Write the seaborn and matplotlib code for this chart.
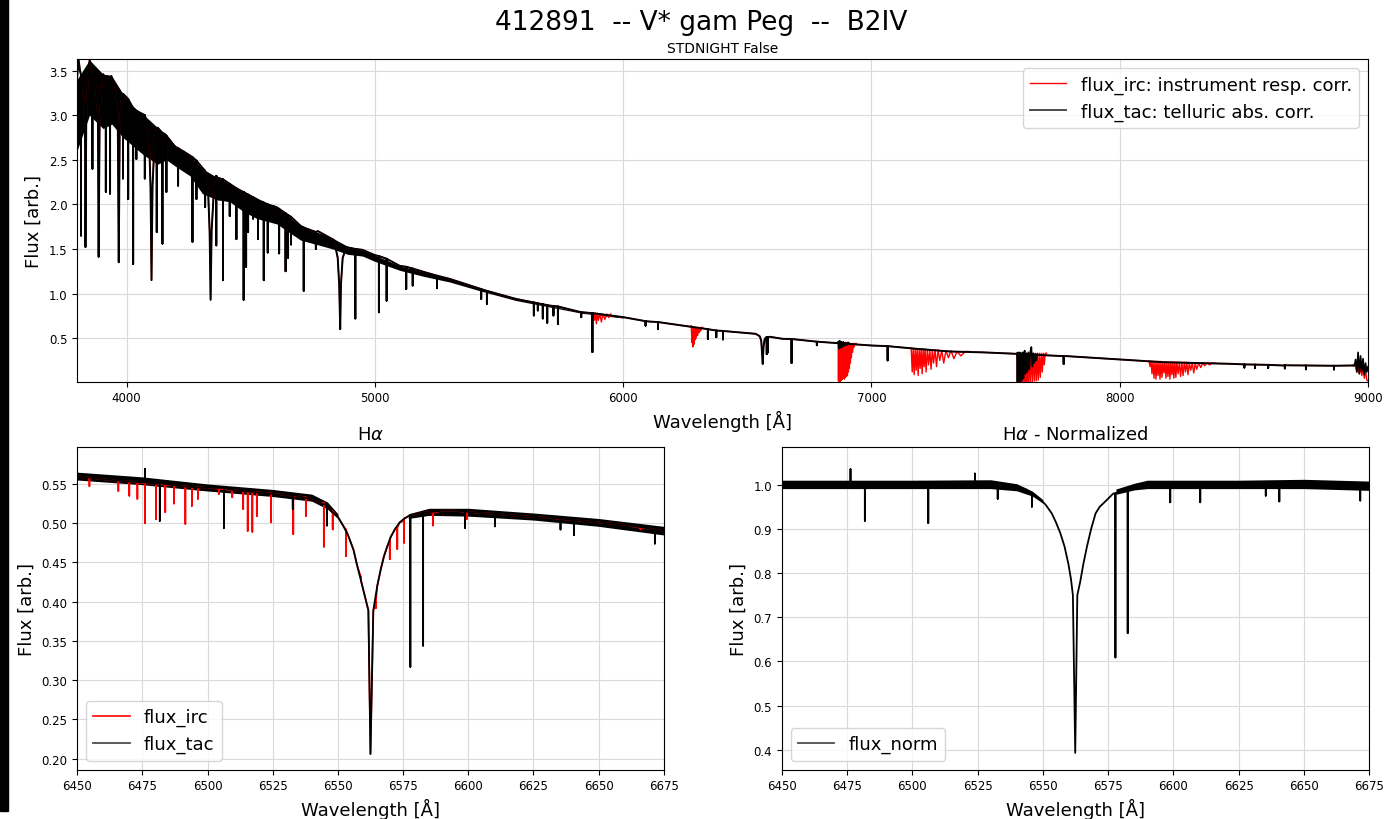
import numpy as np
import matplotlib
matplotlib.use("Agg")
import matplotlib.pyplot as plt
import seaborn as sns
from matplotlib.patches import Rectangle

# ---------------- full spectrum (top panel) ----------------
# upper envelope of the continuum, incl. Balmer wings
cont_wave = [3800, 3806, 3812, 3825, 3832, 3834, 3837, 3845, 3851, 3875, 3884, 3887, 3891,
             3900, 3905, 3920, 3938, 3955, 3964, 3968, 3972, 3980, 4000, 4032, 4066,
             4075, 4090, 4096, 4100, 4104, 4112, 4125, 4153, 4200, 4254, 4308, 4315, 4328,
             4334, 4338, 4342, 4350, 4365, 4415, 4469, 4523, 4603, 4700, 4770, 4835, 4850,
             4856, 4860, 4863, 4870, 4885, 4950, 5000, 5100, 5200, 5300, 5433, 5567, 5701,
             5835, 6000, 6104, 6238, 6373, 6534, 6550, 6556, 6560, 6562, 6565, 6570, 6576,
             6590, 6642, 6776, 7000, 7181, 7315, 7450, 7583, 7770, 8000, 8174, 8443, 8657,
             8940]
cont_flux = [3.40, 3.63, 3.50, 3.25, 2.90, 1.52, 2.90, 3.50, 3.62, 3.35, 3.00, 1.41, 2.95,
             3.40, 3.46, 3.44, 3.44, 3.30, 3.00, 1.35, 2.90, 3.20, 3.20, 3.07, 3.01,
             2.98, 2.75, 2.20, 1.15, 2.20, 2.70, 2.86, 2.79, 2.64, 2.55, 2.40, 2.38, 2.15,
             1.70, 0.93, 1.70, 2.10, 2.30, 2.23, 2.14, 2.06, 1.97, 1.76, 1.70, 1.60, 1.40,
             1.10, 0.60, 1.10, 1.40, 1.52, 1.49, 1.43, 1.31, 1.24, 1.165, 1.045, 0.94, 0.866,
             0.79, 0.735, 0.686, 0.641, 0.585, 0.548, 0.52, 0.47, 0.30, 0.21, 0.40, 0.49, 0.51,
             0.515, 0.492, 0.462, 0.417, 0.38, 0.35, 0.34, 0.324, 0.298, 0.26, 0.23, 0.212, 0.193,
             0.193]

# dense blend of weak lines: lower edge of the black band
band_wave = [3800, 3850, 3905, 3940, 3985, 4040, 4070, 4125, 4160, 4200, 4255, 4305,
             4365, 4415, 4470, 4525, 4605, 4700, 4830, 4890, 4950, 5000, 5100, 5200, 5300,
             5430, 5567, 5701, 5835, 6000]
band_top = [3.40, 3.62, 3.46, 3.44, 3.24, 3.05, 3.00, 2.86, 2.78, 2.64, 2.55, 2.40,
            2.30, 2.23, 2.14, 2.06, 1.97, 1.76, 1.62, 1.53, 1.49, 1.43, 1.31, 1.24, 1.165,
            1.045, 0.94, 0.866, 0.79, 0.735]
band_low = [2.60, 3.00, 2.85, 2.90, 2.75, 2.62, 2.55, 2.45, 2.50, 2.42, 2.32, 2.12,
            2.05, 2.03, 1.92, 1.84, 1.78, 1.60, 1.50, 1.44, 1.42, 1.36, 1.26, 1.19, 1.13,
            1.025, 0.922, 0.850, 0.778, 0.725]

# stellar absorption lines: wavelength, local continuum, line bottom
line_wave = [3816, 3862, 3916, 3933, 3985, 4006, 4026, 4039, 4073, 4121, 4144, 4160, 4194,
             4207, 4231, 4265, 4281, 4316, 4361, 4388, 4415, 4442, 4471, 4481, 4489, 4509,
             4529, 4552, 4568, 4590, 4614, 4640, 4650, 4662, 4713, 4762, 4921, 5016, 5047,
             5126, 5152, 5250, 5428, 5451, 5640, 5656, 5676, 5694, 5719, 5737, 5831, 5876,
             6090, 6140, 6341, 6375, 6402, 6578, 6583, 6678, 6780, 7065, 7774,
             8502, 8545, 8598, 8665, 8750, 8863]
line_top = [3.45, 3.45, 3.42, 3.43, 3.24, 3.18, 3.08, 3.05, 3.00, 2.85, 2.80, 2.77, 2.65,
            2.63, 2.59, 2.53, 2.49, 2.37, 2.32, 2.28, 2.23, 2.18, 2.14, 2.12, 2.11, 2.08,
            2.05, 2.02, 2.00, 1.98, 1.95, 1.90, 1.88, 1.86, 1.74, 1.69, 1.50, 1.42, 1.39,
            1.30, 1.28, 1.20, 1.05, 1.03, 0.90, 0.89, 0.88, 0.87, 0.86, 0.855, 0.79, 0.78,
            0.69, 0.68, 0.60, 0.585, 0.58, 0.51, 0.51, 0.49, 0.46, 0.41, 0.30,
            0.205, 0.203, 0.200, 0.195, 0.193, 0.190]
line_low = [1.65, 2.40, 2.14, 2.12, 2.29, 2.06, 1.33, 2.51, 2.29, 1.69, 1.56, 2.14, 2.47,
            2.21, 2.40, 1.58, 2.06, 1.97, 1.54, 1.15, 1.87, 1.61, 0.93, 1.30, 1.69, 1.84,
            1.61, 1.15, 1.46, 1.87, 1.45, 1.25, 1.40, 1.55, 1.03, 1.50, 0.72, 0.79, 0.92,
            1.05, 1.09, 1.06, 0.94, 0.885, 0.754, 0.81, 0.72, 0.672, 0.754, 0.66, 0.735, 0.343,
            0.64, 0.60, 0.49, 0.51, 0.485, 0.32, 0.34, 0.22, 0.42, 0.25, 0.21,
            0.17, 0.165, 0.165, 0.16, 0.15, 0.148]

# telluric bands left in flux_irc (red)
tell_na_wave = [5880, 5884, 5888, 5892, 5896, 5900, 5906, 5912, 5918, 5926, 5934, 5942, 5950]
tell_na_flux = [0.78, 0.70, 0.78, 0.66, 0.78, 0.70, 0.77, 0.68, 0.77, 0.71, 0.77, 0.73, 0.77]
tell_63_wave = [6274, 6277, 6279, 6281, 6283, 6285, 6287, 6289, 6291, 6294, 6297, 6300,
                6303, 6306, 6309, 6312, 6316, 6320]
tell_63_flux = [0.64, 0.45, 0.63, 0.40, 0.62, 0.43, 0.62, 0.48, 0.62, 0.50, 0.62, 0.53,
                0.62, 0.56, 0.62, 0.58, 0.62, 0.62]
tell_b_wave = [6866, 6867, 6868, 6869.5, 6871, 6872.5, 6874, 6875.5, 6877, 6879, 6881, 6883,
               6885, 6887, 6889, 6891, 6893, 6895, 6897, 6899, 6901, 6903, 6905, 6907, 6909,
               6911, 6913, 6915, 6917, 6919, 6921, 6924, 6927, 6930, 6934, 6938]
tell_b_flux = [0.46, 0.02, 0.45, 0.01, 0.45, 0.01, 0.45, 0.02, 0.45, 0.03, 0.45, 0.04,
               0.45, 0.05, 0.45, 0.04, 0.45, 0.06, 0.45, 0.07, 0.45, 0.08, 0.45, 0.12, 0.45,
               0.16, 0.44, 0.22, 0.44, 0.28, 0.44, 0.34, 0.44, 0.40, 0.44, 0.44]
tell_72_wave = [7160, 7164, 7168, 7172, 7176, 7180, 7184, 7188, 7192, 7196, 7200, 7204,
                7208, 7212, 7216, 7220, 7225, 7230, 7235, 7240, 7245, 7250, 7256, 7262,
                7268, 7275, 7283, 7291, 7300, 7310, 7320, 7332, 7345, 7360, 7378, 7395]
tell_72_flux = [0.39, 0.12, 0.38, 0.09, 0.38, 0.14, 0.38, 0.08, 0.38, 0.16, 0.38, 0.10,
                0.38, 0.18, 0.38, 0.12, 0.37, 0.20, 0.37, 0.15, 0.37, 0.22, 0.37, 0.18,
                0.37, 0.25, 0.36, 0.22, 0.36, 0.28, 0.36, 0.27, 0.35, 0.30, 0.35, 0.35]
tell_a_wave = [7586, 7588, 7590, 7592, 7594, 7597, 7600, 7603, 7606, 7609, 7612, 7615,
               7618, 7621, 7624, 7627, 7630, 7633, 7636, 7640, 7644, 7648, 7652, 7656,
               7660, 7664, 7668, 7672, 7676, 7680, 7684, 7688, 7692, 7696, 7700, 7705]
tell_a_flux = [0.33, 0.01, 0.33, 0.01, 0.33, 0.01, 0.33, 0.01, 0.33, 0.01, 0.33, 0.01,
               0.33, 0.01, 0.33, 0.01, 0.33, 0.01, 0.33, 0.01, 0.33, 0.01, 0.33, 0.02,
               0.33, 0.02, 0.33, 0.03, 0.33, 0.06, 0.33, 0.12, 0.33, 0.20, 0.33, 0.33]
tell_82_wave = [8118, 8122, 8126, 8130, 8134, 8138, 8142, 8146, 8150, 8154, 8158, 8162,
                8166, 8170, 8174, 8178, 8182, 8186, 8190, 8194, 8198, 8202, 8206, 8210,
                8214, 8218, 8222, 8226, 8230, 8235, 8240, 8245, 8250, 8255, 8260, 8265,
                8270, 8275, 8280, 8286, 8292, 8298, 8304, 8310, 8318, 8326, 8334, 8342,
                8352, 8362, 8372, 8382]
tell_82_flux = [0.24, 0.18, 0.24, 0.10, 0.24, 0.05, 0.24, 0.04, 0.24, 0.08, 0.24, 0.04,
                0.24, 0.06, 0.23, 0.11, 0.23, 0.05, 0.23, 0.07, 0.23, 0.04, 0.23, 0.09,
                0.23, 0.05, 0.23, 0.06, 0.23, 0.10, 0.23, 0.07, 0.23, 0.08, 0.23, 0.12,
                0.23, 0.09, 0.22, 0.14, 0.22, 0.11, 0.22, 0.15, 0.22, 0.17, 0.22, 0.19,
                0.22, 0.20, 0.22, 0.22]
tell_end_wave = [8945, 8950, 8955, 8960, 8965, 8970, 8975, 8980, 8985, 8990, 8995, 9000]
tell_end_flux = [0.19, 0.18, 0.12, 0.18, 0.10, 0.17, 0.08, 0.16, 0.05, 0.14, 0.03, 0.02]

# residual noise of flux_tac inside the strongest bands (black)
tac_b_wave = [6866, 6869, 6872, 6875, 6878, 6882, 6886, 6890, 6895, 6900, 6906]
tac_b_flux = [0.46, 0.38, 0.47, 0.39, 0.46, 0.40, 0.46, 0.41, 0.45, 0.42, 0.45]
tac_a_wave = [7586, 7588, 7590, 7592, 7594, 7596, 7598, 7600, 7603, 7606, 7609, 7612, 7615,
              7617, 7620, 7624, 7628, 7632, 7636, 7640, 7644, 7648, 7652, 7656, 7660, 7664, 7668]
tac_a_flux = [0.33, 0.01, 0.34, 0.01, 0.33, 0.02, 0.34, 0.01, 0.33, 0.03, 0.34, 0.05, 0.33,
              0.36, 0.10, 0.33, 0.12, 0.34, 0.15, 0.35, 0.40, 0.18, 0.33, 0.22, 0.32, 0.25, 0.32]
tac_end_wave = [8940, 8945, 8950, 8955, 8960, 8965, 8970, 8975, 8980, 8985, 8990, 8995, 9000]
tac_end_flux = [0.193, 0.19, 0.26, 0.12, 0.34, 0.10, 0.30, 0.13, 0.27, 0.09, 0.22, 0.12, 0.18]

# ---------------- H-alpha window (bottom left) ----------------
ha_wave = [6450, 6460, 6470, 6480, 6490, 6500, 6510, 6520, 6530, 6538, 6543, 6547, 6550,
           6552, 6554, 6556, 6557.4, 6559, 6560.5, 6561.7, 6562.5, 6563.6, 6565.1, 6566.5,
           6567.7, 6569, 6570.2, 6572, 6573.7, 6575.5, 6577.1, 6580, 6585, 6590, 6595, 6600,
           6610, 6620, 6630, 6640, 6650, 6660, 6670, 6675]
ha_tac = [0.560, 0.556, 0.553, 0.550, 0.547, 0.545, 0.542, 0.539, 0.536, 0.532, 0.526, 0.517,
          0.508, 0.497, 0.484, 0.466, 0.446, 0.425, 0.405, 0.389, 0.206, 0.389, 0.420, 0.442,
          0.458, 0.471, 0.482, 0.493, 0.501, 0.506, 0.509, 0.512, 0.514, 0.516, 0.516, 0.514,
          0.512, 0.509, 0.507, 0.504, 0.501, 0.498, 0.493, 0.490]
ha_line_wave = [6476, 6481.7, 6506.3, 6532.7, 6545.8, 6577.8, 6582.7, 6598.8, 6610.3,
                6635.4, 6640.6, 6671.6]
ha_line_top = [0.552, 0.551, 0.545, 0.536, 0.523, 0.510, 0.513, 0.515, 0.512, 0.506, 0.504, 0.492]
ha_line_low = [0.569, 0.503, 0.494, 0.518, 0.497, 0.317, 0.344, 0.494, 0.496, 0.492, 0.485, 0.474]
# telluric lines only in flux_irc
ha_tell_wave = [6454.7, 6465.8, 6470, 6473.1, 6476, 6480.3, 6483.8, 6487.2, 6491.5, 6494,
                6496.3, 6504.3, 6509.5, 6513.7, 6515.4, 6517.2, 6518.9, 6524.3, 6532.9,
                6537.7, 6544.6, 6548, 6553.1, 6558.8, 6564.6, 6569.9, 6572.8, 6575.4,
                6586.5, 6599.4, 6666.1]
ha_tell_top = [0.558, 0.554, 0.553, 0.552, 0.551, 0.550, 0.549, 0.548, 0.547, 0.546, 0.546,
               0.544, 0.542, 0.541, 0.540, 0.540, 0.540, 0.538, 0.535, 0.533, 0.526, 0.515,
               0.492, 0.432, 0.400, 0.476, 0.494, 0.503, 0.513, 0.514, 0.494]
ha_tell_low = [0.547, 0.541, 0.535, 0.531, 0.500, 0.505, 0.514, 0.525, 0.499, 0.522, 0.531,
               0.537, 0.533, 0.518, 0.490, 0.489, 0.509, 0.501, 0.486, 0.509, 0.470, 0.492,
               0.458, 0.430, 0.392, 0.454, 0.467, 0.475, 0.497, 0.505, 0.492]
# noise band of the continuum
ha_env_wave = [6450, 6475, 6500, 6525, 6540, 6546, 6550]
ha_env_hi = [0.565, 0.559, 0.550, 0.543, 0.537, 0.527, 0.512]
ha_env_lo = [0.555, 0.549, 0.541, 0.534, 0.528, 0.518, 0.506]
ha_env2_wave = [6577, 6585, 6600, 6625, 6650, 6675]
ha_env2_hi = [0.512, 0.519, 0.519, 0.513, 0.506, 0.496]
ha_env2_lo = [0.506, 0.510, 0.509, 0.504, 0.496, 0.485]

# ---------------- normalized H-alpha (bottom right) ----------------
norm_wave = [6450, 6530, 6536.5, 6540, 6543.3, 6546, 6548.3, 6551, 6553.4, 6555, 6556.7,
             6558.3, 6559.8, 6560.8, 6561.5, 6562.4, 6563.2, 6564.3, 6565.5, 6566.9, 6568.5,
             6570.2, 6571.8, 6573.6, 6575.3, 6577, 6580.3, 6585.4, 6590, 6675]
norm_flux = [1.0, 1.0, 1.0, 0.995, 0.99, 0.98, 0.97, 0.955, 0.935, 0.915, 0.89,
             0.86, 0.82, 0.785, 0.75, 0.393, 0.75, 0.78, 0.82, 0.86, 0.90,
             0.935, 0.95, 0.96, 0.97, 0.98, 0.99, 0.995, 1.0, 0.998]
norm_line_wave = [6476.3, 6481.8, 6506.1, 6524, 6532.7, 6545.8, 6577.8, 6582.5, 6598.8,
                  6610.3, 6635.4, 6640.6, 6671.6]
norm_line_top = [1.0, 1.0, 1.0, 1.0, 1.0, 0.98, 0.98, 0.99, 1.0, 1.0, 1.0, 1.0, 1.0]
norm_line_low = [1.035, 0.918, 0.913, 1.025, 0.968, 0.95, 0.609, 0.664, 0.96, 0.96, 0.975,
                 0.962, 0.964]
norm_env_wave = [6450, 6500, 6530, 6540, 6546, 6550]
norm_env_hi = [1.010, 1.010, 1.011, 1.002, 0.985, 0.966]
norm_env_lo = [0.991, 0.991, 0.991, 0.986, 0.974, 0.958]
norm_env2_wave = [6578, 6585, 6590, 6625, 6650, 6675]
norm_env2_hi = [0.990, 1.003, 1.010, 1.010, 1.012, 1.008]
norm_env2_lo = [0.978, 0.988, 0.991, 0.991, 0.991, 0.987]


def with_lines(wave, flux, lw_, lt, ll):
    # continuum points plus a spike for each line, ordered by wavelength
    pts = list(zip(wave, flux))
    for w, t, l in zip(lw_, lt, ll):
        pts += [(w, t), (w, l), (w, t)]
    pts = sorted(pts, key=lambda p: p[0])
    return [p[0] for p in pts], [p[1] for p in pts]


def spec(ax, x, y, color, lw=1.0, label=None):
    sns.lineplot(x=x, y=y, ax=ax, color=color, lw=lw, estimator=None, sort=False,
                 label=label, legend=False)


tac_x, tac_y = with_lines(cont_wave, cont_flux, line_wave, line_top, line_low)
ha_x, ha_y = with_lines(ha_wave, ha_tac, ha_line_wave, ha_line_top, ha_line_low)
hat_x, hat_y = with_lines(ha_wave, ha_tac, ha_tell_wave, ha_tell_top, ha_tell_low)
nrm_x, nrm_y = with_lines(norm_wave, norm_flux, norm_line_wave, norm_line_top, norm_line_low)

fig = plt.figure(figsize=(13.88, 8.2), dpi=100)
fig.patches.append(Rectangle((0, 0.0098), 8 / 1388, 1, transform=fig.transFigure,
                             color="black", zorder=-1))

ax1 = fig.add_axes([0.0555, 0.5335, 0.9301, 0.3933])
ax2 = fig.add_axes([0.0556, 0.0601, 0.4226, 0.3935])
ax3 = fig.add_axes([0.5633, 0.0601, 0.4231, 0.3935])

# top: whole spectrum
spec(ax1, tac_x, tac_y, "red", 1.0, "flux_irc: instrument resp. corr.")
for tw, tf in [(tell_na_wave, tell_na_flux), (tell_63_wave, tell_63_flux),
               (tell_b_wave, tell_b_flux), (tell_72_wave, tell_72_flux),
               (tell_a_wave, tell_a_flux), (tell_82_wave, tell_82_flux),
               (tell_end_wave, tell_end_flux)]:
    spec(ax1, tw, tf, "red", 1.0)
ax1.fill_between(band_wave, band_low, band_top, color="black", lw=0)
spec(ax1, tac_x, tac_y, "black", 1.4, "flux_tac: telluric abs. corr.")
for tw, tf in [(tac_b_wave, tac_b_flux), (tac_a_wave, tac_a_flux),
               (tac_end_wave, tac_end_flux)]:
    spec(ax1, tw, tf, "black", 1.2)
ax1.set_xlim(3800, 9000)
ax1.set_ylim(0.013, 3.63)
ax1.set_yticks([0.5, 1.0, 1.5, 2.0, 2.5, 3.0, 3.5])
ax1.set_xlabel("Wavelength [Å]", fontsize=13)
ax1.set_ylabel("Flux [arb.]", fontsize=13)
ax1.set_title("STDNIGHT False", fontsize=10, pad=5)

# bottom left: H-alpha
spec(ax2, hat_x, hat_y, "red", 1.2, "flux_irc")
ax2.fill_between(ha_env_wave, ha_env_lo, ha_env_hi, color="black", lw=0)
ax2.fill_between(ha_env2_wave, ha_env2_lo, ha_env2_hi, color="black", lw=0)
spec(ax2, ha_x, ha_y, "black", 1.3, "flux_tac")
ax2.set_xlim(6450, 6675)
ax2.set_ylim(0.186, 0.597)
ax2.set_xticks(np.arange(6450, 6676, 25))
ax2.set_xlabel("Wavelength [Å]", fontsize=13)
ax2.set_ylabel("Flux [arb.]", fontsize=13)
ax2.set_title(r"H$\alpha$", fontsize=13)

# bottom right: normalized
ax3.fill_between(norm_env_wave, norm_env_lo, norm_env_hi, color="black", lw=0)
ax3.fill_between(norm_env2_wave, norm_env2_lo, norm_env2_hi, color="black", lw=0)
spec(ax3, nrm_x, nrm_y, "black", 1.3, "flux_norm")
ax3.set_xlim(6450, 6675)
ax3.set_ylim(0.355, 1.085)
ax3.set_xticks(np.arange(6450, 6676, 25))
ax3.set_xlabel("Wavelength [Å]", fontsize=13)
ax3.set_ylabel("Flux [arb.]", fontsize=13)
ax3.set_title(r"H$\alpha$ - Normalized", fontsize=13)

for ax, loc in [(ax1, "upper right"), (ax2, "lower left"), (ax3, "lower left")]:
    ax.grid(True, color="#d9d9d9", lw=0.8)
    ax.set_axisbelow(True)
    ax.tick_params(labelsize=8.5)
    handles, labels = ax.get_legend_handles_labels()
    leg = ax.legend(handles, labels, loc=loc, fontsize=13)
    for h in leg.get_lines():
        if h.get_color() == "black":
            h.set_alpha(0.7)

fig.suptitle("412891  -- V* gam Peg  --  B2IV", fontsize=19, x=0.5055, y=0.9634,
             va="baseline")

fig.savefig("out.png", dpi=100)
